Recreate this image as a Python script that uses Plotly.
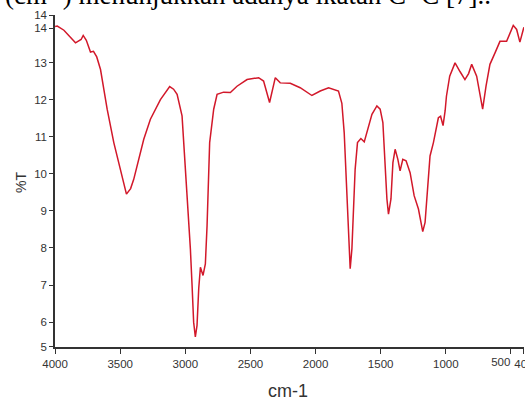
import plotly.graph_objects as go

# Wavenumber (cm-1) and transmittance (%T)
wavenumber = [4000, 3983, 3932, 3880, 3843, 3800, 3784, 3760, 3728, 3705, 3680, 3651,
              3600, 3549, 3498, 3452, 3420, 3396, 3319, 3268, 3191, 3150, 3120, 3090,
              3063, 3025, 2999, 2974, 2961, 2948, 2936, 2923, 2910, 2897, 2884, 2864,
              2846, 2833, 2820, 2813, 2782, 2756, 2706, 2654, 2603, 2526, 2437, 2399,
              2353, 2330, 2309, 2271, 2194, 2118, 2028, 1964, 1900, 1824, 1798, 1780,
              1764, 1747, 1734, 1721, 1709, 1696, 1678, 1652, 1626, 1606, 1567, 1529,
              1504, 1483, 1465, 1452, 1440, 1421, 1406, 1389, 1368, 1351, 1330, 1305,
              1274, 1243, 1210, 1192, 1177, 1159, 1141, 1121, 1095, 1057, 1040, 1021,
              1005, 995, 970, 929, 890, 853, 825, 801, 763, 737, 717, 691, 661, 622,
              584, 533, 482, 456, 431, 405, 400]
transmittance = [13.97, 13.98, 13.87, 13.68, 13.53, 13.62, 13.73, 13.60, 13.28, 13.30, 13.15, 12.81,
                 11.74, 10.84, 10.12, 9.45, 9.60, 9.85, 10.93, 11.47, 12.00, 12.22, 12.35, 12.28,
                 12.14, 11.56, 10.12, 9.00, 7.97, 6.99, 6.00, 5.60, 5.91, 6.90, 7.48, 7.26,
                 7.57, 8.60, 9.85, 10.84, 11.74, 12.14, 12.20, 12.19, 12.36, 12.54, 12.59, 12.50,
                 11.92, 12.30, 12.59, 12.45, 12.44, 12.32, 12.11, 12.23, 12.32, 12.23, 11.90, 11.11,
                 9.85, 8.42, 7.44, 7.97, 9.14, 10.12, 10.84, 10.95, 10.86, 11.11, 11.60, 11.83,
                 11.74, 11.38, 10.12, 9.32, 8.91, 9.32, 10.30, 10.66, 10.39, 10.08, 10.39, 10.35,
                 10.03, 9.41, 9.05, 8.69, 8.44, 8.69, 9.67, 10.48, 10.84, 11.51, 11.55, 11.30,
                 11.70, 12.09, 12.63, 12.99, 12.75, 12.54, 12.70, 12.95, 12.63, 12.09, 11.74, 12.36, 12.95, 13.26,
                 13.57, 13.57, 14.00, 13.89, 13.55, 13.89, 13.95]

x_tickvals = [4000, 3500, 3000, 2500, 2000, 1500, 1000, 500, 400]
x_ticktext = ["4000", "3500", "3000", "2500", "2000", "1500", "1000", "500", "400"]
y_tickvals = [5.335, 6, 7, 8, 9, 10, 11, 12, 13, 13.92, 14.27]
y_ticktext = ["5", "6", "7", "8", "9", "10", "11", "12", "13", "14", "14"]

sans = "Liberation Sans, Arial, sans-serif"
tick_font = dict(family=sans, size=11.5, color="#333")

# the "500" label sits left of its tick (to make room for "400"), so it gets its own overlay axis
main_text = ["" if v == 500 else t for v, t in zip(x_tickvals, x_ticktext)]
side_vals = [v for v in x_tickvals if v == 500]
side_text = [t for v, t in zip(x_tickvals, x_ticktext) if v == 500]
x_range = [4000.5, 399.5]

fig = go.Figure()
fig.add_trace(go.Scatter(x=wavenumber, y=transmittance, mode="lines",
                         line=dict(color="#d2182a", width=1.5), showlegend=False))

fig.update_layout(
    width=525, height=401,
    margin=dict(l=55, r=1, t=15, b=54),
    paper_bgcolor="white", plot_bgcolor="white",
    xaxis=dict(range=x_range, tickvals=x_tickvals, ticktext=main_text,
               tickangle=0, automargin=False, ticklabeloverflow="allow",
               ticks="outside", ticklen=5, tickcolor="#333", tickwidth=1,
               showline=True, linecolor="#333", linewidth=2,
               showgrid=False, zeroline=False, tickfont=tick_font),
    xaxis2=dict(range=x_range, overlaying="x", anchor="y", side="bottom",
                tickvals=side_vals, ticktext=side_text, tickangle=0,
                ticklabelposition="outside left", ticks="outside", ticklen=5,
                tickcolor="rgba(0,0,0,0)", ticklabelstandoff=4, showline=False,
                showgrid=False, zeroline=False, automargin=False,
                ticklabeloverflow="allow", tickfont=tick_font),
    yaxis=dict(range=[5.33, 14.28], tickvals=y_tickvals, ticktext=y_ticktext,
               automargin=False, ticklabeloverflow="allow",
               ticks="outside", ticklen=4, tickcolor="#333", tickwidth=1,
               showline=True, linecolor="#333", linewidth=1.5,
               showgrid=False, zeroline=False, tickfont=tick_font),
    annotations=[
        dict(text="cm-1", xref="paper", yref="paper", x=0.4968, y=-0.1325,
             xanchor="center", yanchor="middle", showarrow=False,
             font=dict(family=sans, size=18, color="#333")),
        dict(text="%T", xref="paper", yref="paper", x=-0.0725, y=0.497,
             xanchor="center", yanchor="middle", showarrow=False, textangle=-90,
             font=dict(family=sans, size=14, color="#333")),
        dict(text="(cm<sup>-1</sup>) menunjukkan adanya ikatan C=C [7]..",
             xref="paper", yref="paper", x=-0.1109, y=1.009,
             xanchor="left", yanchor="bottom", showarrow=False,
             font=dict(family="Liberation Serif, Times New Roman, serif", size=27, color="black")),
    ],
)
# an invisible trace binds the overlay axis so it is drawn
fig.add_trace(go.Scatter(x=[wavenumber[0]], y=[transmittance[0]], xaxis="x2", mode="markers",
                         marker=dict(opacity=0), hoverinfo="skip", showlegend=False))

fig.write_html("out.html", config={"displayModeBar": False},
               post_script="document.body.style.margin='0';document.body.style.overflow='hidden';")
